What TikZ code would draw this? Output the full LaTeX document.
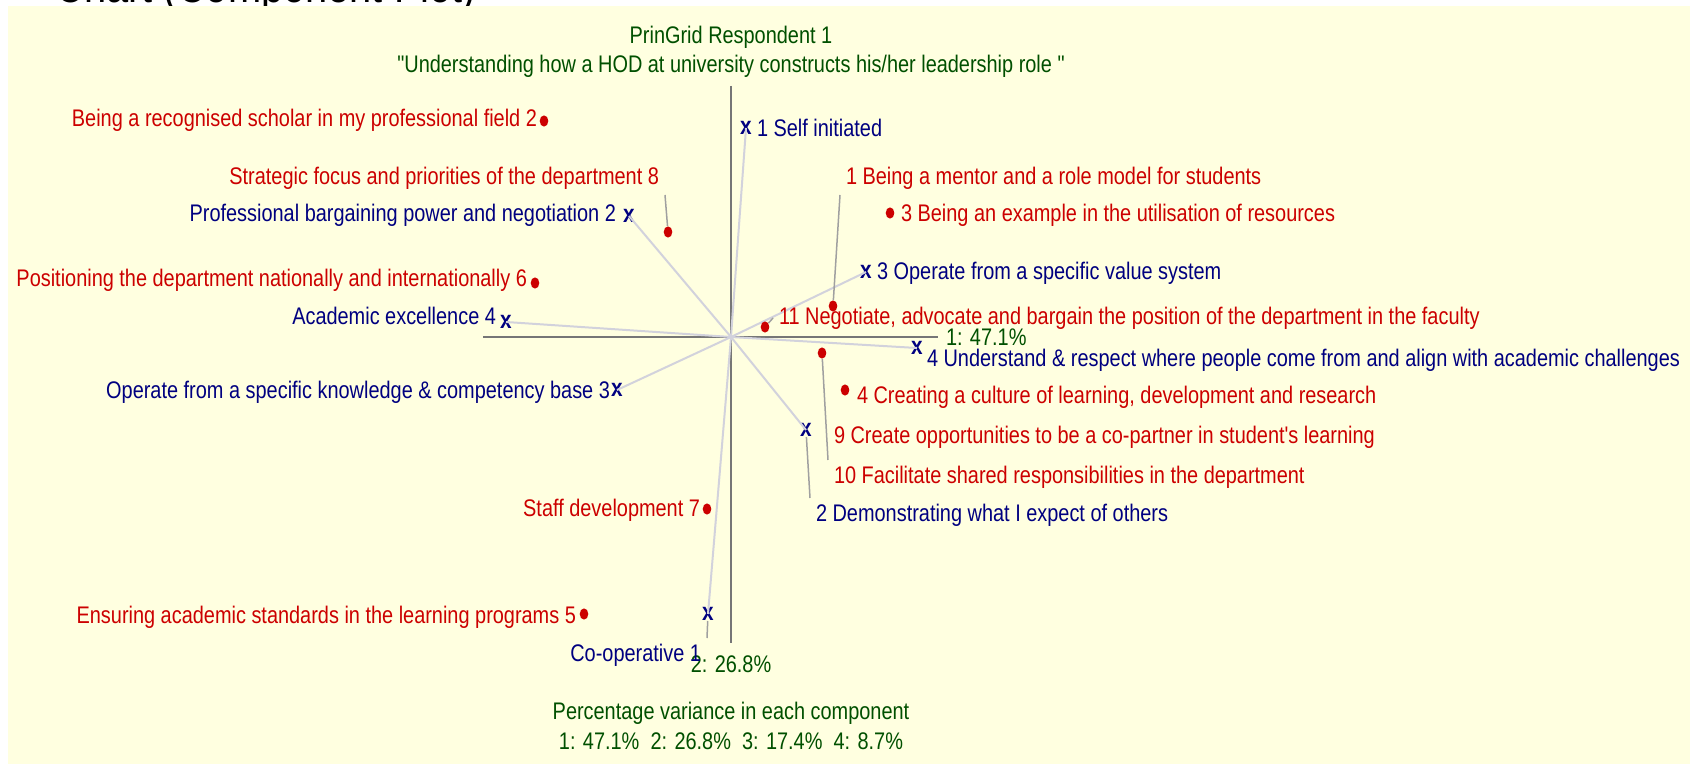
\documentclass[tikz,border=0pt]{standalone}
\usepackage{fontspec}
\setmainfont{Liberation Sans}[FakeStretch=0.83,Ligatures=TeXOff]
\usetikzlibrary{shapes.geometric}
\definecolor{pgbg}{RGB}{255,255,224}
\definecolor{pgred}{RGB}{204,0,0}
\definecolor{pgblue}{RGB}{0,0,128}
\definecolor{pggreen}{RGB}{0,80,0}
\definecolor{pgaxis}{RGB}{118,118,118}
\definecolor{pgray}{RGB}{210,210,220}
\definecolor{pgleader}{RGB}{160,160,160}
\tikzset{
	txt/.style={inner sep=0pt, outer sep=3pt, text height=8.6pt, text depth=2.4pt, font=\fontsize{12}{14}\selectfont},
	redtxt/.style={txt, text=pgred},
	bluetxt/.style={txt, text=pgblue},
	greentxt/.style={txt, text=pggreen},
	pole/.style={inner sep=0pt, text=pgblue, font=\fontsize{12.5}{14}\selectfont\bfseries},
	elem/.style={ellipse, fill=pgred, inner sep=0pt, minimum width=4.3pt, minimum height=5.6pt},
	axis/.style={draw=pgaxis, line width=1.15pt},
	ray/.style={draw=pgray, line width=1pt},
	leader/.style={draw=pgleader, line width=0.75pt}
}
\begin{document}
\begin{tikzpicture}[x=0.5pt, y=-0.5pt]
					\useasboundingbox (0, 0) rectangle (1693, 764);
					\begin{scope}
						\clip (0, 0) rectangle (1693, 764);
						\node[anchor=base west, inner sep=0pt, font=\fontsize{24}{28}\selectfont] (chart)at(55, 3) {Chart (Component Plot)};
					\end{scope}
					\fill[pgbg] (8, 6) rectangle (1690, 764);
					\node[greentxt] (title)at(731, 37) {PrinGrid Respondent 1};
					\node[greentxt] (topic)at(731, 66) {"Understanding how a HOD at university constructs his/her leadership role "};
					\coordinate (o)at(731, 337);
					\coordinate (xa)at(483, 337);
					\coordinate (xb)at(938, 337);
					\coordinate (ya)at(731, 86);
					\coordinate (yb)at(731, 643);
					\draw[axis] (xa) -- (xb);
					\draw[axis] (ya) -- (yb);
					\node[greentxt, anchor=west] (ax1)at(940, 339) {1: 47.1\%};
					\node[greentxt] (ax2)at(731, 666) {2: 26.8\%};
					\node[pole] (R1)at(746, 128) {x};
					\node[pole] (L1)at(708, 614) {x};
					\node[pole] (R2)at(806, 430) {x};
					\node[pole] (L2)at(629, 216) {x};
					\node[pole] (R3)at(866, 272) {x};
					\node[pole] (L3)at(617, 390) {x};
					\node[pole] (R4)at(917, 348) {x};
					\node[pole] (L4)at(506, 322) {x};
					\foreach \p in {R1, L1, R2, L2, R3, L3, R4, L4}
						\draw[ray] (o) -- (\p.center);
					\node[bluetxt, anchor=west] (tR1)at(751, 130) {1 Self initiated};
					\node[bluetxt, anchor=east] (tL1)at(707, 655) {Co-operative 1};
					\node[bluetxt, anchor=west] (tR2)at(810, 515) {2 Demonstrating what I expect of others};
					\node[bluetxt, anchor=east] (tL2)at(622, 215) {Professional bargaining power and negotiation 2};
					\node[bluetxt, anchor=west] (tR3)at(871, 273) {3 Operate from a specific value system};
					\node[bluetxt, anchor=east] (tL3)at(616, 392) {Operate from a specific knowledge \& competency base 3};
					\node[bluetxt, anchor=west] (tR4)at(921, 360) {4 Understand \& respect where people come from and align with academic challenges};
					\node[bluetxt, anchor=east] (tL4)at(502, 318) {Academic excellence 4};
					\node[elem] (E1)at(833, 306) {};
					\node[elem] (E2)at(544, 121) {};
					\node[elem] (E3)at(890, 213) {};
					\node[elem] (E4)at(845, 390) {};
					\node[elem] (E5)at(584, 614) {};
					\node[elem] (E6)at(535, 283) {};
					\node[elem] (E7)at(707, 509) {};
					\node[elem] (E8)at(668, 232) {};
					\node[elem] (E10)at(822, 353) {};
					\node[elem] (E11)at(765, 327) {};
					\node[redtxt, anchor=west] (tE1)at(840, 178) {1 Being a mentor and a role model for students};
					\node[redtxt, anchor=east] (tE2)at(543, 120) {Being a recognised scholar in my professional field 2};
					\node[redtxt, anchor=west] (tE3)at(895, 215) {3 Being an example in the utilisation of resources};
					\node[redtxt, anchor=west] (tE4)at(851, 397) {4 Creating a culture of learning, development and research};
					\node[redtxt, anchor=east] (tE5)at(582, 617) {Ensuring academic standards in the learning programs 5};
					\node[redtxt, anchor=east] (tE6)at(533, 280) {Positioning the department nationally and internationally 6};
					\node[redtxt, anchor=east] (tE7)at(706, 510) {Staff development 7};
					\node[redtxt, anchor=east] (tE8)at(665, 178) {Strategic focus and priorities of the department 8};
					\node[redtxt, anchor=west] (tE9)at(828, 437) {9 Create opportunities to be a co-partner in student's learning};
					\node[redtxt, anchor=west] (tE10)at(828, 477) {10 Facilitate shared responsibilities in the department};
					\node[redtxt, anchor=west] (tE11)at(773, 318) {11 Negotiate, advocate and bargain the position of the department in the faculty};
					\draw[leader] (E1) -- (tE1.south west);
					\draw[leader] (E8) -- (tE8.south east);
					\draw[leader] (E10) -- (tE10.north west);
					\draw[leader] (E11) -- (tE11.west);
					\draw[leader] (R2) -- (tR2.north west);
					\draw[leader] (L1) -- (tL1.north east);
					\node[greentxt] (foot)at(731, 713) {Percentage variance in each component};
					\node[greentxt] (pct)at(731, 743) {1: 47.1\%~ 2: 26.8\%~ 3: 17.4\%~ 4: 8.7\%};
				\end{tikzpicture}
\end{document}
